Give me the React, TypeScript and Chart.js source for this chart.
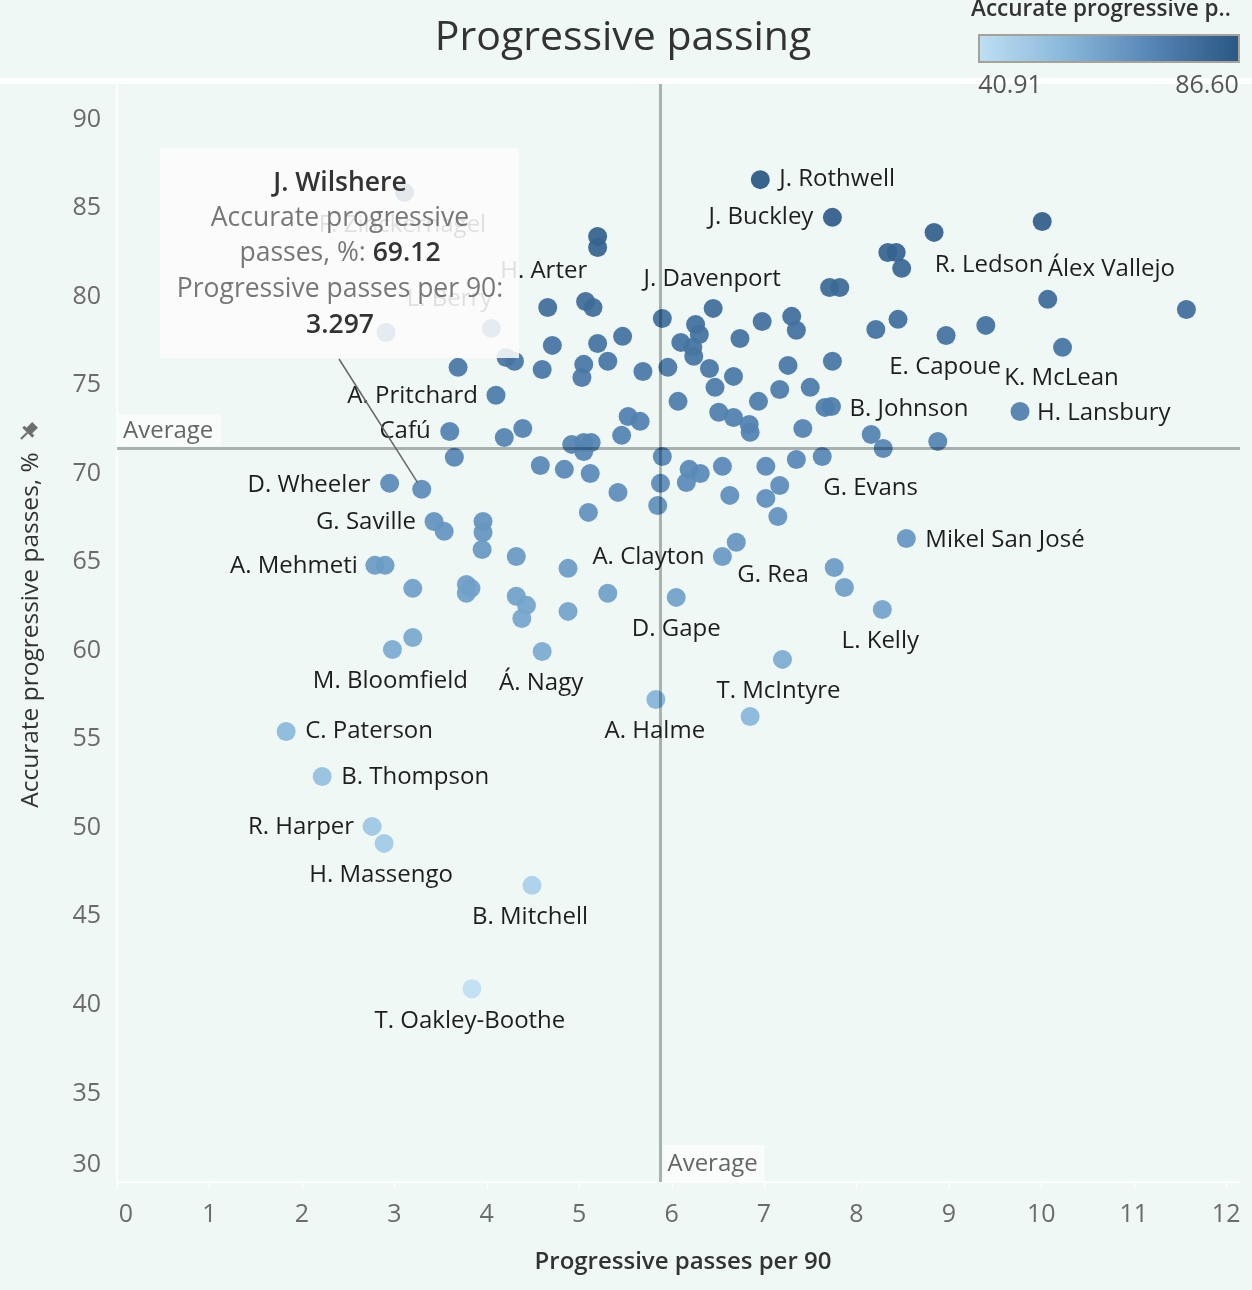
import React, { useEffect, useRef } from "react";
import { Chart, registerables } from "chart.js";

Chart.register(...registerables);

// ---------- DATA ----------
const progressivePer90: number[] = [
  6.96, 7.74, 10.01, 8.84, 8.34, 8.43, 8.49, 7.71, 7.82, 5.2,
  5.2, 4.66, 5.07, 5.15, 10.07, 11.57, 5.9, 6.26, 6.45, 6.98,
  7.3, 7.35, 8.45, 8.21, 8.97, 9.4, 10.23, 6.3, 6.1, 6.23,
  6.24, 6.74, 5.47, 5.2, 4.71, 5.31, 5.05, 5.03, 4.6, 4.3,
  4.21, 3.69, 3.11, 2.91, 4.05, 5.69, 5.96, 6.41, 6.67, 6.47,
  6.07, 6.51, 6.67, 6.84, 6.85, 6.94, 7.26, 7.17, 7.5, 7.74,
  7.66, 7.73, 7.42, 8.16, 8.29, 8.88, 9.77, 5.53, 5.66, 5.46,
  4.1, 3.6, 3.65, 4.19, 4.39, 4.92, 5.05, 5.13, 5.05, 5.9,
  4.58, 4.84, 5.12, 6.19, 6.31, 6.16, 6.55, 7.02, 7.35, 7.63,
  7.17, 7.02, 6.63, 5.88, 5.85, 5.42, 5.1, 7.15, 2.95, 3.297,
  3.43, 3.54, 3.96, 3.96, 3.95, 4.32, 4.88, 2.79, 2.9, 3.2,
  3.78, 3.83, 3.78, 4.32, 4.43, 4.38, 4.88, 5.31, 3.2, 2.98,
  4.6, 6.7, 6.55, 6.05, 7.76, 7.87, 8.54, 8.28, 7.2, 5.83,
  6.85, 1.83, 2.22, 2.76, 2.89, 4.49, 3.84,
];

const accuratePct: number[] = [
  86.6, 84.47, 84.24, 83.62, 82.49, 82.49, 81.59, 80.51, 80.51, 83.39,
  82.77, 79.38, 79.72, 79.38, 79.84, 79.27, 78.76, 78.42, 79.33, 78.59,
  78.88, 78.09, 78.71, 78.14, 77.8, 78.37, 77.13, 77.86, 77.41, 77.13,
  76.62, 77.63, 77.75, 77.35, 77.24, 76.34, 76.17, 75.43, 75.88, 76.34,
  76.56, 76.0, 85.88, 77.97, 78.2, 75.77, 76.0, 75.94, 75.49, 74.87,
  74.08, 73.46, 73.17, 72.78, 72.33, 74.08, 76.11, 74.75, 74.87, 76.34,
  73.74, 73.79, 72.55, 72.21, 71.42, 71.82, 73.51, 73.23, 72.95, 72.16,
  74.42, 72.38, 70.92, 72.04, 72.55, 71.65, 71.76, 71.76, 71.25, 70.97,
  70.46, 70.24, 70.01, 70.24, 70.01, 69.5, 70.41, 70.41, 70.8, 70.97,
  69.33, 68.6, 68.77, 69.45, 68.2, 68.94, 67.81, 67.58, 69.45, 69.12,
  67.3, 66.74, 67.3, 66.68, 65.72, 65.32, 64.65, 64.82, 64.82, 63.52,
  63.74, 63.52, 63.24, 63.07, 62.56, 61.82, 62.22, 63.24, 60.75, 60.07,
  59.96, 66.12, 65.32, 63.01, 64.7, 63.57, 66.34, 62.33, 59.51, 57.25,
  56.29, 55.44, 52.9, 50.08, 49.12, 46.75, 40.91,
];

const playerNames: string[] = [
  "J. Rothwell", "J. Buckley", "", "", "", "", "R. Ledson", "", "", "",
  "", "H. Arter", "", "", "Álex Vallejo", "", "", "", "J. Davenport", "",
  "", "", "", "", "E. Capoue", "", "K. McLean", "", "", "",
  "", "", "", "", "", "", "", "", "", "",
  "", "", "F. Zinckernagel", "", "L. Berry", "", "", "", "", "",
  "", "", "", "", "", "", "", "", "", "",
  "", "B. Johnson", "", "", "", "", "H. Lansbury", "", "", "",
  "A. Pritchard", "Cafú", "", "", "", "", "", "", "", "",
  "", "", "", "", "", "", "", "", "", "G. Evans",
  "", "", "", "", "", "", "", "", "D. Wheeler", "J. Wilshere",
  "G. Saville", "", "", "", "", "", "", "A. Mehmeti", "", "",
  "", "", "", "", "", "", "", "", "", "M. Bloomfield",
  "Á. Nagy", "G. Rea", "A. Clayton", "D. Gape", "", "", "Mikel San José", "L. Kelly", "T. McIntyre", "A. Halme",
  "", "C. Paterson", "B. Thompson", "R. Harper", "H. Massengo", "B. Mitchell", "T. Oakley-Boothe",
];

const xTickLabels: number[] = [0, 1, 2, 3, 4, 5, 6, 7, 8, 9, 10, 11, 12];
const yTickLabels: number[] = [90, 85, 80, 75, 70, 65, 60, 55, 50, 45, 40, 35, 30];

const averageX = 5.88;
const averageY = 71.42;
const colorMin = 40.91;
const colorMax = 86.6;
const highlighted = "J. Wilshere";

// ---------- STYLE ----------
const FONT = '"Open Sans", "Noto Sans", sans-serif';
const BG = "#f0f8f6";
const colorStops: [number, number[]][] = [
  [0, [190, 223, 242]],
  [0.33, [137, 184, 218]],
  [0.66, [86, 134, 181]],
  [1, [42, 87, 131]],
];

// label placement: align, dx, dy (pixels from the mark)
const labelPlacement: { name: string; align: CanvasTextAlign; dx: number; dy: number }[] = [
  { name: "J. Rothwell", align: "left", dx: 19, dy: 0 },
  { name: "J. Buckley", align: "right", dx: -19, dy: 0 },
  { name: "R. Ledson", align: "left", dx: 33, dy: -3 },
  { name: "Álex Vallejo", align: "left", dx: 0, dy: -30 },
  { name: "J. Davenport", align: "center", dx: -1, dy: -29 },
  { name: "H. Arter", align: "center", dx: -4, dy: -36 },
  { name: "F. Zinckernagel", align: "center", dx: -2, dy: 33 },
  { name: "L. Berry", align: "right", dx: 1, dy: -29 },
  { name: "A. Pritchard", align: "right", dx: -18, dy: 1 },
  { name: "Cafú", align: "right", dx: -19, dy: 0 },
  { name: "D. Wheeler", align: "right", dx: -19, dy: 2 },
  { name: "G. Saville", align: "right", dx: -18, dy: 1 },
  { name: "A. Mehmeti", align: "right", dx: -17, dy: 1 },
  { name: "M. Bloomfield", align: "center", dx: -2, dy: 32 },
  { name: "Á. Nagy", align: "center", dx: -1, dy: 32 },
  { name: "C. Paterson", align: "left", dx: 19, dy: 0 },
  { name: "B. Thompson", align: "left", dx: 19, dy: 1 },
  { name: "R. Harper", align: "right", dx: -18, dy: 1 },
  { name: "H. Massengo", align: "center", dx: -3, dy: 32 },
  { name: "B. Mitchell", align: "center", dx: -2, dy: 32 },
  { name: "T. Oakley-Boothe", align: "center", dx: -2, dy: 32 },
  { name: "A. Clayton", align: "right", dx: -18, dy: 1 },
  { name: "G. Rea", align: "left", dx: 1, dy: 33 },
  { name: "D. Gape", align: "center", dx: 0, dy: 32 },
  { name: "T. McIntyre", align: "center", dx: -4, dy: 32 },
  { name: "A. Halme", align: "center", dx: -1, dy: 32 },
  { name: "L. Kelly", align: "center", dx: -2, dy: 32 },
  { name: "Mikel San José", align: "left", dx: 19, dy: 2 },
  { name: "G. Evans", align: "left", dx: 1, dy: 32 },
  { name: "B. Johnson", align: "left", dx: 18, dy: 3 },
  { name: "H. Lansbury", align: "left", dx: 17, dy: 2 },
  { name: "E. Capoue", align: "center", dx: -1, dy: 32 },
  { name: "K. McLean", align: "center", dx: -1, dy: 31 },
];

function colorFor(v: number, alpha = 1): string {
  const t = Math.max(0, Math.min(1, (v - colorMin) / (colorMax - colorMin)));
  for (let i = 1; i < colorStops.length; i++) {
    const [t1, c1] = colorStops[i];
    const [t0, c0] = colorStops[i - 1];
    if (t <= t1) {
      const f = (t - t0) / (t1 - t0);
      const c = c0.map((a, k) => Math.round(a + (c1[k] - a) * f));
      return `rgba(${c[0]},${c[1]},${c[2]},${alpha})`;
    }
  }
  const c = colorStops[colorStops.length - 1][1];
  return `rgba(${c[0]},${c[1]},${c[2]},${alpha})`;
}

const overlayPlugin = {
  id: "overlay",
  beforeDraw(chart: any) {
    const { ctx, width, height } = chart;
    ctx.save();
    ctx.fillStyle = BG;
    ctx.fillRect(0, 0, width, height);
    ctx.fillStyle = "#ffffff";
    ctx.fillRect(0, 78, width, 6);
    const a = chart.chartArea;
    ctx.strokeStyle = "rgba(255,255,255,0.9)";
    ctx.lineWidth = 1.5;
    ctx.beginPath();
    ctx.moveTo(a.left, a.top);
    ctx.lineTo(a.left, a.bottom);
    ctx.lineTo(a.right, a.bottom);
    ctx.stroke();
    const xs = chart.scales.x;
    ctx.strokeStyle = "rgba(255,255,255,0.95)";
    ctx.lineWidth = 1;
    xTickLabels.forEach((v) => {
      const px = Math.round(xs.getPixelForValue(v)) + 0.5;
      ctx.beginPath();
      ctx.moveTo(px, a.bottom);
      ctx.lineTo(px, a.bottom + 7);
      ctx.stroke();
    });
    ctx.restore();
  },
  afterDatasetsDraw(chart: any) {
    const { ctx } = chart;
    const a = chart.chartArea;
    const xs = chart.scales.x;
    const ys = chart.scales.y;
    ctx.save();

    // average lines
    ctx.strokeStyle = "rgba(0,12,12,0.3)";
    ctx.lineWidth = 3;
    const axp = xs.getPixelForValue(averageX);
    const ayp = ys.getPixelForValue(averageY);
    ctx.beginPath();
    ctx.moveTo(axp, a.top);
    ctx.lineTo(axp, a.bottom);
    ctx.stroke();
    ctx.beginPath();
    ctx.moveTo(a.left, ayp);
    ctx.lineTo(a.right, ayp);
    ctx.stroke();

    // average labels
    ctx.font = `24px ${FONT}`;
    ctx.textBaseline = "middle";
    ctx.textAlign = "left";
    ctx.fillStyle = "rgba(255,255,255,0.6)";
    ctx.fillRect(a.left + 1, ayp - 34, 103, 32);
    ctx.fillRect(axp + 3, a.bottom - 37, 101, 36);
    ctx.fillStyle = "#666";
    ctx.fillText("Average", a.left + 6, ayp - 17);
    ctx.fillText("Average", axp + 7, a.bottom - 18);

    // point labels
    ctx.font = `24px ${FONT}`;
    ctx.fillStyle = "#1e1e1e";
    labelPlacement.forEach((lp) => {
      const i = playerNames.indexOf(lp.name);
      if (i < 0) return;
      const px = xs.getPixelForValue(progressivePer90[i]) + lp.dx;
      const py = ys.getPixelForValue(accuratePct[i]) + lp.dy;
      ctx.textAlign = lp.align;
      ctx.fillText(lp.name, px, py);
    });

    // axis tick labels
    ctx.font = `25px ${FONT}`;
    ctx.fillStyle = "#6b6b6b";
    ctx.textAlign = "right";
    yTickLabels.forEach((v) => {
      let py = ys.getPixelForValue(v);
      if (py > a.bottom - 12) py = a.bottom - 17;
      ctx.fillText(String(v), 101, py);
    });
    ctx.textAlign = "center";
    xTickLabels.forEach((v) => {
      let px = xs.getPixelForValue(v);
      if (px < a.left + 10) px = a.left + 9;
      ctx.fillText(String(v), px, 1215);
    });

    // axis titles
    ctx.fillStyle = "#333";
    ctx.font = `600 24px ${FONT}`;
    ctx.textAlign = "center";
    ctx.fillText("Progressive passes per 90", 683, 1262);
    ctx.save();
    ctx.translate(31, 630);
    ctx.rotate(-Math.PI / 2);
    ctx.font = `500 24.5px ${FONT}`;
    ctx.fillText("Accurate progressive passes, %", 0, 0);
    ctx.restore();

    // pin icon
    ctx.save();
    ctx.translate(28, 432);
    ctx.rotate(Math.PI / 4);
    ctx.fillStyle = "#6e6e6e";
    ctx.fillRect(-4, -10, 8, 9);
    ctx.fillRect(-7, -2, 14, 3);
    ctx.fillRect(-1, 1, 2, 9);
    ctx.restore();

    // title
    ctx.fillStyle = "#333";
    ctx.font = `500 41px ${FONT}`;
    ctx.textAlign = "center";
    ctx.fillText("Progressive passing", 623, 38);

    // color legend
    ctx.font = `600 22.5px ${FONT}`;
    ctx.textAlign = "left";
    ctx.fillStyle = "#333";
    ctx.fillText("Accurate progressive p..", 971, 10);
    const g = ctx.createLinearGradient(979, 0, 1239, 0);
    colorStops.forEach(([t, c]) => g.addColorStop(t, `rgb(${c[0]},${c[1]},${c[2]})`));
    ctx.fillStyle = g;
    ctx.fillRect(979, 35, 260, 27);
    ctx.strokeStyle = "#a8a296";
    ctx.lineWidth = 2;
    ctx.strokeRect(979, 35, 260, 27);
    ctx.font = `25px ${FONT}`;
    ctx.fillStyle = "#555";
    ctx.textAlign = "center";
    ctx.fillText(colorMin.toFixed(2), 1010, 86);
    ctx.fillText(colorMax.toFixed(2), 1207, 86);

    // tooltip
    const hi = playerNames.indexOf(highlighted);
    const hx = xs.getPixelForValue(progressivePer90[hi]);
    const hy = ys.getPixelForValue(accuratePct[hi]);
    ctx.fillStyle = "rgba(250,250,250,0.88)";
    ctx.fillRect(160, 148, 359, 210);
    ctx.strokeStyle = "#666";
    ctx.lineWidth = 1.5;
    ctx.beginPath();
    ctx.moveTo(339, 359);
    const dx = hx - 339, dy = hy - 359;
    const len = Math.sqrt(dx * dx + dy * dy);
    ctx.lineTo(hx - (dx / len) * 8, hy - (dy / len) * 8);
    ctx.stroke();

    const cx = 340;
    const TF = 26.5;
    ctx.textAlign = "center";
    ctx.fillStyle = "#333";
    ctx.font = `600 ${TF}px ${FONT}`;
    ctx.fillText(highlighted, cx, 183);
    ctx.font = `${TF}px ${FONT}`;
    ctx.fillStyle = "#777";
    ctx.fillText("Accurate progressive", cx, 218);
    ctx.fillText("Progressive passes per 90:", cx, 289);
    const part1 = "passes, %: ";
    const part2 = accuratePct[hi].toFixed(2);
    ctx.font = `${TF}px ${FONT}`;
    const w1 = ctx.measureText(part1).width;
    ctx.font = `600 ${TF}px ${FONT}`;
    const w2 = ctx.measureText(part2).width;
    const sx = cx - (w1 + w2) / 2;
    ctx.textAlign = "left";
    ctx.font = `${TF}px ${FONT}`;
    ctx.fillStyle = "#777";
    ctx.fillText(part1, sx, 253);
    ctx.font = `600 ${TF}px ${FONT}`;
    ctx.fillStyle = "#333";
    ctx.fillText(part2, sx + w1, 253);
    ctx.textAlign = "center";
    ctx.fillText(progressivePer90[hi].toFixed(3), cx, 325);

    ctx.restore();
  },
};

export default function App() {
  const ref = useRef<HTMLCanvasElement | null>(null);
  useEffect(() => {
    document.body.style.margin = "0";
    document.body.style.background = BG;
    if (!ref.current) return;
    const points = progressivePer90.map((x, i) => ({ x, y: accuratePct[i] }));
    const chart = new Chart(ref.current, {
      type: "scatter",
      data: {
        datasets: [
          {
            data: points,
            backgroundColor: accuratePct.map((v) => colorFor(v, 0.93)),
            borderWidth: 0,
            pointRadius: 9.5,
            pointHoverRadius: 9.5,
          },
        ],
      },
      options: {
        animation: false,
        responsive: false,
        devicePixelRatio: 1,
        events: [],
        layout: { padding: { left: 117, right: 12, top: 84, bottom: 108 } },
        scales: {
          x: { type: "linear", min: 0, max: 12.15, display: false },
          y: { type: "linear", min: 30, max: 92, display: false },
        },
        plugins: { legend: { display: false }, tooltip: { enabled: false }, title: { display: false } },
      },
      plugins: [overlayPlugin],
    });
    return () => chart.destroy();
  }, []);
  return (
    <div style={{ width: 1252, height: 1290, background: BG }}>
      <canvas ref={ref} width={1252} height={1290} style={{ display: "block" }} />
    </div>
  );
}
